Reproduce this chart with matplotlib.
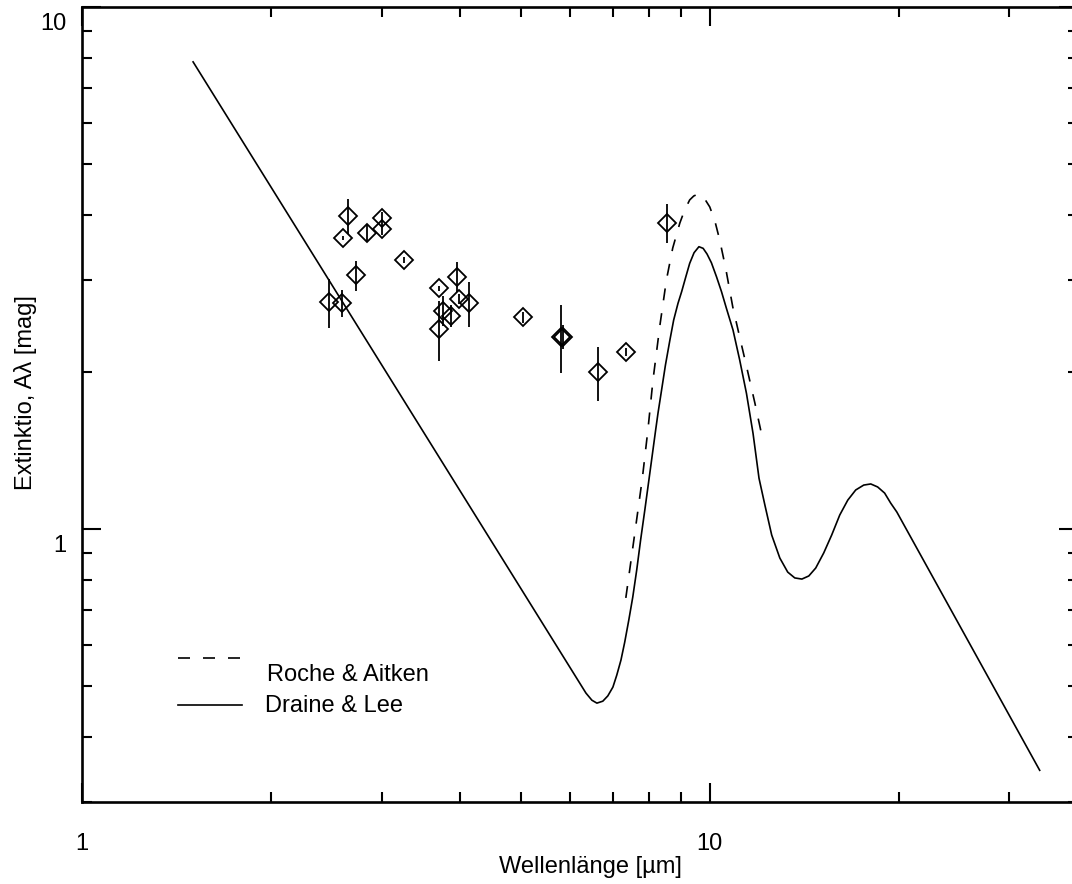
import numpy as np
import matplotlib
matplotlib.use("Agg")
import matplotlib.pyplot as plt
from matplotlib.lines import Line2D
from matplotlib.transforms import ScaledTranslation

plt.rcParams['font.family'] = ['Liberation Sans', 'DejaVu Sans']

# Draine & Lee extinction curve (wavelength in micron, extinction in mag)
dl_wave = [1.503, 6.35, 6.49, 6.61, 6.755, 6.88, 7.01, 7.11, 7.22, 7.32, 7.43,
           7.54, 7.65, 7.76, 7.88, 8.006, 8.20, 8.27, 8.38, 8.50, 8.64, 8.76,
           8.90, 9.02, 9.16, 9.29, 9.44, 9.61, 9.76, 9.90, 10.06, 10.25, 10.44,
           10.63, 10.89, 11.16, 11.44, 11.72, 11.98, 12.24, 12.55, 12.93,
           13.31, 13.66, 14.02, 14.38, 14.75, 15.19, 15.64, 16.11, 16.59,
           17.08, 17.59, 18.05, 18.51, 18.99, 19.42, 19.86, 33.54]
dl_ext = [7.85, 0.485, 0.470, 0.464, 0.468, 0.479, 0.498, 0.525, 0.561, 0.607,
          0.669, 0.741, 0.835, 0.953, 1.087, 1.251, 1.548, 1.666, 1.846, 2.062,
          2.302, 2.514, 2.706, 2.849, 3.043, 3.228, 3.383, 3.474, 3.449, 3.364,
          3.237, 3.043, 2.849, 2.647, 2.406, 2.108, 1.820, 1.525, 1.251,
          1.112, 0.974, 0.880, 0.827, 0.806, 0.802, 0.813, 0.842, 0.900,
          0.974, 1.064, 1.136, 1.188, 1.214, 1.220, 1.204, 1.172, 1.121,
          1.078, 0.345]

# Roche & Aitken silicate feature
ra_wave = [7.35, 7.57, 7.81, 7.97, 8.12, 8.33, 8.53, 8.73, 8.96, 9.12, 9.29,
           9.43, 9.57, 9.75, 10.0, 10.19, 10.37, 10.60, 10.88, 11.16, 11.45,
           11.80, 12.15]
ra_ext = [0.738, 0.953, 1.252, 1.548, 1.929, 2.459, 3.00, 3.454, 3.856, 4.084,
          4.27, 4.345, 4.38, 4.345, 4.14, 3.890, 3.58, 3.162, 2.664, 2.332,
          2.043, 1.743, 1.480]

# Measured extinction values with uncertainties
obs_wave = [2.649, 2.601, 2.843, 3.004, 3.004, 3.26, 2.732, 2.474, 2.592,
            3.698, 3.959, 3.989, 4.133, 3.762, 3.865, 3.698, 5.043, 5.80,
            5.84, 6.64, 7.35, 8.56]
obs_ext = [3.98, 3.614, 3.686, 3.95, 3.75, 3.276, 3.062, 2.722, 2.706,
           2.892, 3.043, 2.754, 2.706, 2.62, 2.563, 2.416, 2.545, 2.336,
           2.336, 1.996, 2.186, 3.863]
obs_err = [0.30, 0.03, 0.13, 0.10, 0.10, 0.05, 0.20, 0.29, 0.16,
           0.03, 0.20, 0.06, 0.27, 0.17, 0.12, 0.32, 0.06, 0.35,
           0.12, 0.24, 0.04, 0.33]

x_range = (1.0, 38.6)
y_range = (0.3, 10.0)
x_major = [1, 10]
x_major_labels = ['1', '10']
y_major = [1, 10]
y_major_labels = ['1', '10']

W, H = 1072, 884
fig = plt.figure(figsize=(W / 100, H / 100), dpi=100)
ax = fig.add_axes([82 / W, (H - 802) / H, 996 / W, 795 / H])

ax.set_xscale('log')
ax.set_yscale('log')
ax.set_xlim(*x_range)
ax.set_ylim(*y_range)

ax.plot(dl_wave, dl_ext, color='black', lw=1.2, solid_joinstyle='round')
ax.plot(ra_wave, ra_ext, color='black', lw=1.2, dashes=(7.2, 7.8))
ax.errorbar(obs_wave, obs_ext, yerr=obs_err, fmt='D', ms=9.5, mfc='none',
            mec='black', mew=1.3, ecolor='black', elinewidth=1.3, capsize=0,
            zorder=3)

for side in ax.spines.values():
    side.set_linewidth(1.9)

ax.xaxis.set_major_locator(matplotlib.ticker.FixedLocator(x_major))
ax.xaxis.set_major_formatter(matplotlib.ticker.FixedFormatter(x_major_labels))
ax.xaxis.set_minor_locator(matplotlib.ticker.LogLocator(base=10, subs=np.arange(2, 10)))
ax.xaxis.set_minor_formatter(matplotlib.ticker.NullFormatter())
ax.yaxis.set_major_locator(matplotlib.ticker.FixedLocator(y_major))
ax.yaxis.set_major_formatter(matplotlib.ticker.FixedFormatter(y_major_labels))
ax.yaxis.set_minor_locator(matplotlib.ticker.LogLocator(base=10, subs=np.arange(2, 10)))
ax.yaxis.set_minor_formatter(matplotlib.ticker.NullFormatter())

ax.tick_params(which='both', direction='in', top=True, right=True, width=1.5,
               color='black')
ax.tick_params(which='major', length=14)
ax.tick_params(which='minor', length=7)
ax.tick_params(axis='x', which='major', labelsize=17, pad=22)
ax.tick_params(axis='y', which='major', labelsize=17, pad=11)

shift = ScaledTranslation(0, -14 / 100, fig.dpi_scale_trans)
for lab in ax.get_yticklabels():
    lab.set_transform(lab.get_transform() + shift)

fig.text(26 / W, 1 - 393 / H, 'Extinktio, Aλ [mag]', rotation=90,
         ha='center', va='center', fontsize=17)
fig.text(590 / W, 1 - 867 / H, 'Wellenlänge [µm]', ha='center', va='center',
         fontsize=17)

# key
fig.add_artist(Line2D([178 / W, 242 / W], [1 - 658 / H] * 2, color='black',
                      lw=1.2, dashes=(7.2, 7.8)))
fig.add_artist(Line2D([178 / W, 242 / W], [1 - 705 / H] * 2, color='black',
                      lw=1.2))
fig.text(267 / W, 1 - 675 / H, 'Roche & Aitken', ha='left', va='center',
         fontsize=17)
fig.text(265 / W, 1 - 706 / H, 'Draine & Lee', ha='left', va='center',
         fontsize=17)

fig.savefig('out.png', dpi=100)
